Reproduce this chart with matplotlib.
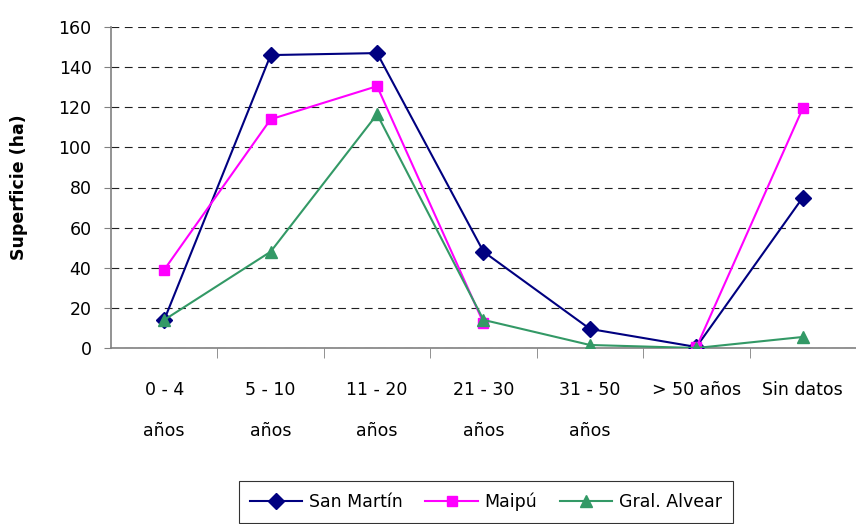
import numpy as np
import matplotlib
matplotlib.use("Agg")
import matplotlib.pyplot as plt

categories = ["0 - 4\naños", "5 - 10\naños", "11 - 20\naños", "21 - 30\naños",
              "31 - 50\naños", "> 50 años", "Sin datos"]
san_martin = [14, 146, 147, 48, 9.5, 0.5, 75]
maipu = [39, 114, 130.5, 12.5, np.nan, 0.3, 119.5]
gral_alvear = [14, 48, 116.5, 14, 1.5, 0, 5.5]
yticks = [0, 20, 40, 60, 80, 100, 120, 140, 160]

plt.rcParams['font.family'] = ['DejaVu Sans']

fig = plt.figure(figsize=(8.56, 5.24), dpi=100)
ax = fig.add_axes([111/856, 1-348/524, 1-111/856, (348-27)/524])

x = np.arange(len(categories))
ax.plot(x, san_martin, color='#000080', marker='D', markersize=8, lw=1.5, label='San Martín', zorder=3)
ax.plot(x, maipu, color='#FF00FF', marker='s', markersize=7.5, lw=1.5, label='Maipú', zorder=4)
ax.plot(x, gral_alvear, color='#339966', marker='^', markersize=9, lw=1.5, label='Gral. Alvear', zorder=5)

ax.set_xlim(-0.5, len(categories) - 0.5)
ax.set_ylim(0, 160)
ax.set_yticks(yticks)
ax.tick_params(axis='y', labelsize=12.5, length=5, direction='out', color='#808080', pad=9)

ax.set_xticks(x)
ax.set_xticklabels(categories, fontsize=12.5, linespacing=2.6)
ax.tick_params(axis='x', which='major', length=0, pad=24)
ax.set_xticks(np.arange(0.5, len(categories) - 0.5, 1), minor=True)
ax.tick_params(axis='x', which='minor', length=7, direction='out', color='#808080')

ax.grid(axis='y', color='#202020', linestyle=(0, (7, 5)), linewidth=0.8)
ax.set_axisbelow(True)
for s in ['top', 'right']:
    ax.spines[s].set_visible(False)
ax.spines['left'].set_color('#808080')
ax.spines['bottom'].set_color('#808080')
ax.spines['left'].set_linewidth(1.2)
ax.spines['bottom'].set_linewidth(1.2)

ax.set_ylabel('Superficie (ha)', fontsize=12.5, fontweight='bold', labelpad=22)

leg = fig.legend(loc='center', bbox_to_anchor=(486/856, 1-502/524), ncol=3,
                 fontsize=12.5, frameon=True, fancybox=False, edgecolor='#000000',
                 handlelength=3.0, columnspacing=1.3, handletextpad=0.4,
                 borderpad=0.65, borderaxespad=0)
leg.get_frame().set_linewidth(0.8)

fig.savefig('out.png', dpi=100)
